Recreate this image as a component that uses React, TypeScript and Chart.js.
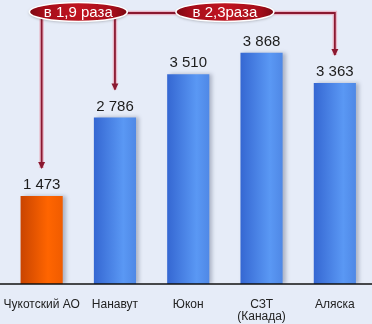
import React, { useEffect, useRef } from "react";
import { Chart, registerables } from "chart.js";
Chart.register(...registerables);

const categories: (string | string[])[] = ["Чукотский АО", "Нанавут", "Юкон", ["СЗТ", "(Канада)"], "Аляска"];
const values: number[] = [1473, 2786, 3510, 3868, 3363];
const ratioLabels: string[] = ["в 1,9 раза", "в 2,3раза"];
const highlightIndex = 0;

const FONT = "'Liberation Sans', Arial, sans-serif";
const BAR_PCT = 0.575;

function fmt(v: number): string {
  return String(v).replace(/\B(?=(\d{3})+(?!\d))/g, " ");
}

function barFill(c: any) {
  const chart = c.chart;
  const i = c.dataIndex;
  const xs = chart.scales && chart.scales.x;
  if (i === undefined || !xs || !chart.chartArea) return i === highlightIndex ? "#f06000" : "#4a86e8";
  const cx = xs.getPixelForValue(i);
  const hw = (xs.width / categories.length) * BAR_PCT / 2;
  const g = chart.ctx.createLinearGradient(cx - hw, 0, cx + hw, 0);
  if (i === highlightIndex) {
    g.addColorStop(0, "#c94400");
    g.addColorStop(0.65, "#ff6500");
    g.addColorStop(1, "#f05c00");
  } else {
    g.addColorStop(0, "#3567d2");
    g.addColorStop(0.7, "#5a98f4");
    g.addColorStop(1, "#4f88e6");
  }
  return g;
}

const bgPlugin = {
  id: "bg",
  beforeDraw(chart: any) {
    const { ctx, width, height } = chart;
    ctx.save();
    ctx.fillStyle = "#e6ecf8";
    ctx.fillRect(0, 0, width, height);
    ctx.restore();
  },
  beforeDatasetDraw(chart: any) {
    const ctx = chart.ctx;
    ctx.save();
    ctx.shadowColor = "rgba(40,50,80,0.3)";
    ctx.shadowBlur = 4;
    ctx.shadowOffsetX = 3;
    ctx.shadowOffsetY = 0;
  },
  afterDatasetDraw(chart: any) {
    chart.ctx.restore();
  },
};

function drawArrowLine(ctx: CanvasRenderingContext2D, pts: [number, number][], arrow: boolean) {
  const path = () => {
    ctx.beginPath();
    ctx.moveTo(pts[0][0], pts[0][1]);
    for (let k = 1; k < pts.length; k++) ctx.lineTo(pts[k][0], pts[k][1]);
  };
  ctx.save();
  ctx.lineJoin = "miter";
  ctx.strokeStyle = "rgba(235,140,160,0.55)";
  ctx.lineWidth = 4.5;
  path();
  ctx.stroke();
  ctx.strokeStyle = "#8a1830";
  ctx.lineWidth = 1.8;
  path();
  ctx.stroke();
  if (arrow) {
    const [ex, ey] = pts[pts.length - 1];
    ctx.fillStyle = "#8a1830";
    ctx.beginPath();
    ctx.moveTo(ex - 3.5, ey - 6);
    ctx.lineTo(ex + 3.5, ey - 6);
    ctx.lineTo(ex, ey + 1);
    ctx.closePath();
    ctx.fill();
  }
  ctx.restore();
}

function drawOval(ctx: CanvasRenderingContext2D, cx: number, cy: number, rx: number, ry: number, text: string) {
  ctx.save();
  ctx.shadowColor = "rgba(0,0,0,0.3)";
  ctx.shadowBlur = 3;
  ctx.shadowOffsetY = 1;
  ctx.beginPath();
  ctx.ellipse(cx, cy, rx, ry, 0, 0, Math.PI * 2);
  const g = ctx.createRadialGradient(cx, cy - 2, 2, cx, cy, rx);
  g.addColorStop(0, "#c01420");
  g.addColorStop(0.7, "#a50d1a");
  g.addColorStop(1, "#7c0812");
  ctx.fillStyle = g;
  ctx.fill();
  ctx.shadowColor = "transparent";
  ctx.lineWidth = 1.5;
  ctx.strokeStyle = "#ffffff";
  ctx.stroke();
  ctx.fillStyle = "#ffffff";
  ctx.font = `15px ${FONT}`;
  ctx.textAlign = "center";
  ctx.textBaseline = "middle";
  ctx.fillText(text, cx, cy + 1);
  ctx.restore();
}

const overlayPlugin = {
  id: "overlay",
  afterDraw(chart: any) {
    const { ctx, chartArea } = chart;
    const xs = chart.scales.x;
    const ys = chart.scales.y;
    // axis line
    ctx.save();
    ctx.strokeStyle = "#111";
    ctx.lineWidth = 1.5;
    ctx.beginPath();
    ctx.moveTo(0, chartArea.bottom);
    ctx.lineTo(chart.width, chartArea.bottom);
    ctx.stroke();
    ctx.restore();

    // value labels
    ctx.save();
    ctx.fillStyle = "#1c1c1c";
    ctx.font = `15px ${FONT}`;
    ctx.textAlign = "center";
    ctx.textBaseline = "middle";
    values.forEach((v, i) => {
      ctx.fillText(fmt(v), xs.getPixelForValue(i), ys.getPixelForValue(v) - 11);
    });
    ctx.restore();

    const px = (i: number) => xs.getPixelForValue(i);
    const tipY = (i: number) => ys.getPixelForValue(values[i]) - 28;
    const lineY = 13;
    const o1x = (px(0) + px(1)) / 2;
    const o2x = (px(2) + px(3)) / 2;
    const rx = 49, ry = 9.5;

    drawArrowLine(ctx, [[px(0), lineY], [px(0), tipY(0)]], true);
    drawArrowLine(ctx, [[px(1), lineY], [px(1), tipY(1)]], true);
    drawArrowLine(ctx, [[o1x + rx - 2, lineY], [o2x - rx + 2, lineY]], false);
    drawArrowLine(ctx, [[o2x + rx - 2, lineY], [px(4), lineY], [px(4), tipY(4)]], true);

    drawOval(ctx, o1x, 12, rx, ry, ratioLabels[0]);
    drawOval(ctx, o2x, 12, rx, ry, ratioLabels[1]);
  },
};

export default function App() {
  const ref = useRef<HTMLCanvasElement | null>(null);
  useEffect(() => {
    document.body.style.margin = "0";
    const canvas = ref.current;
    if (!canvas) return;
    const chart = new Chart(canvas, {
      type: "bar",
      data: {
        labels: categories,
        datasets: [
          {
            data: values,
            backgroundColor: barFill,
            borderWidth: 0,
            barPercentage: BAR_PCT,
            categoryPercentage: 1,
          },
        ],
      },
      options: {
        responsive: false,
        devicePixelRatio: 1,
        animation: false,
        layout: { padding: { left: 5, right: 0.5, top: 0, bottom: 1 } },
        plugins: { legend: { display: false }, tooltip: { enabled: false } },
        scales: {
          x: {
            grid: { display: false, drawTicks: false, tickLength: 0 },
            border: { display: false },
            afterFit(scale: any) {
              scale.paddingLeft = 0;
              scale.paddingRight = 0;
              scale.height = 39;
            },
            ticks: {
              color: "#222",
              padding: 15,
              maxRotation: 0,
              autoSkip: false,
              font: { family: FONT, size: 12, lineHeight: 1.0 },
            },
          },
          y: { display: false, min: 0, max: 4750 },
        },
      },
      plugins: [bgPlugin, overlayPlugin],
    });
    return () => chart.destroy();
  }, []);
  return <canvas ref={ref} width={372} height={324} style={{ display: "block" }} />;
}
